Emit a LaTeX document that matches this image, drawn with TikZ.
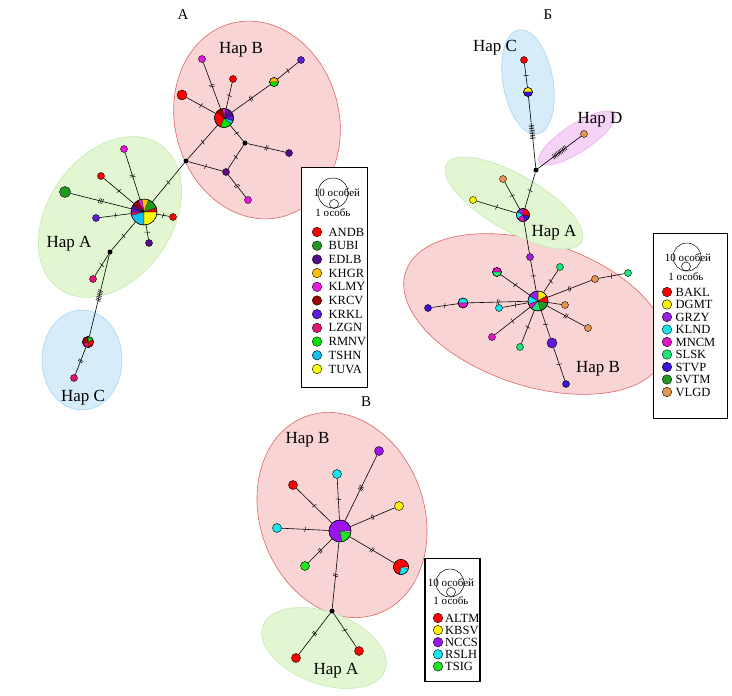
\documentclass[tikz,border=0pt]{standalone}
\usepackage{fontspec}
\setmainfont{Liberation Serif}
\usepackage{tikz}
\usetikzlibrary{decorations,decorations.markings}
\usepackage{xcolor}
% population colours
\definecolor{andb}{HTML}{FF0000}
\definecolor{bubi}{HTML}{1E9B1E}
\definecolor{edlb}{HTML}{5A0A8C}
\definecolor{khgr}{HTML}{FFC000}
\definecolor{klmy}{HTML}{E619E6}
\definecolor{krcv}{HTML}{A00000}
\definecolor{krkl}{HTML}{5A1EDC}
\definecolor{lzgn}{HTML}{E6146E}
\definecolor{rmnv}{HTML}{00E600}
\definecolor{tshn}{HTML}{14BEF0}
\definecolor{tuva}{HTML}{FFFF00}
\definecolor{bakl}{HTML}{FF0000}
\definecolor{dgmt}{HTML}{FFF000}
\definecolor{grzy}{HTML}{9B1EE6}
\definecolor{klnd}{HTML}{14E6F0}
\definecolor{mncm}{HTML}{E614C8}
\definecolor{slsk}{HTML}{1EE678}
\definecolor{stvp}{HTML}{3C14D2}
\definecolor{svtm}{HTML}{239B23}
\definecolor{vlgd}{HTML}{E69650}
\definecolor{altm}{HTML}{FF0000}
\definecolor{kbsv}{HTML}{FFF000}
\definecolor{nccs}{HTML}{9B14F0}
\definecolor{rslh}{HTML}{14E6F0}
\definecolor{tsig}{HTML}{1EE61E}
% haplogroup areas
\definecolor{fillA}{HTML}{E2F6D2}
\definecolor{drawA}{HTML}{C4EAB0}
\definecolor{fillB}{HTML}{F8D4D4}
\definecolor{drawB}{HTML}{E06464}
\definecolor{fillC}{HTML}{D6ECF9}
\definecolor{drawC}{HTML}{A8D4F2}
\definecolor{fillD}{HTML}{F6D2F6}
\definecolor{drawD}{HTML}{E8B0E8}
\tikzstyle{ellA}=[fill=fillA, draw=drawA, line width=.6pt]
\tikzstyle{ellB}=[fill=fillB, draw=drawB, line width=.6pt]
\tikzstyle{ellC}=[fill=fillC, draw=drawC, line width=.6pt]
\tikzstyle{ellD}=[fill=fillD, draw=drawD, line width=.6pt]
\tikzstyle{link}=[draw, line width=.6pt]
\tikzstyle{med}=[circle, fill=black, inner sep=0pt, minimum size=5pt]
\tikzstyle{hlab}=[inner sep=0pt, font=\fontsize{17}{17}\selectfont]
\tikzstyle{plab}=[inner sep=0pt, font=\fontsize{15}{15}\selectfont]
\tikzstyle{legbox}=[draw, fill=white, line width=1.2pt, inner sep=0pt]
\tikzstyle{legdot}=[circle, draw, line width=.4pt, inner sep=0pt, minimum size=9.5pt]
\tikzstyle{legtxt}=[anchor=west, inner sep=0pt, font=\fontsize{12.5}{13}\selectfont]
\tikzstyle{sztxt}=[inner sep=0pt, font=\fontsize{11}{11}\selectfont]
\tikzstyle{szcirc}=[circle, draw, line width=.5pt, inner sep=0pt]
\tikzset{hap/.style={circle, draw, line width=.4pt, inner sep=0pt, minimum size=#1}}
\tikzset{muts/.style={postaction={decorate, decoration={markings,
 mark=at position .5 with {\foreach \k in {1,...,#1} {\draw[line width=.5pt] ({(\k-(#1+1)/2)*1.7pt-.5pt},-2.6pt) -- ({(\k-(#1+1)/2)*1.7pt+.5pt},2.6pt);}}}}}}
\newcommand{\hpie}[3]{
 \foreach \a/\b/\c in {#3}
  \filldraw[fill=\c, draw=black, line width=.2pt] (#1.center) -- ++(-\a:#2) arc (-\a:-\b:#2) -- cycle;
 \draw[line width=.4pt] (#1.center) circle (#2);
}

\begin{document}
\begin{tikzpicture}[x=1pt, y=-1pt]
 \useasboundingbox (0,0) rectangle (732,696);
%
% panel A
 \draw[ellB, rotate around={15:(257,120)}] (257,120) ellipse [x radius=82, y radius=100];
 \draw[ellA, rotate around={-35:(110,217)}] (110,217) ellipse [x radius=62, y radius=88];
 \draw[ellC] (82,360) ellipse [x radius=40, y radius=50];
 \node[plab] (tA) at (183,15) {А};
 \node[hap=19pt] (aB) at (224,118) {};
 \node[hap=7pt, fill=klmy] (aB1) at (202,59) {};
 \node[hap=7pt, fill=andb] (aB2) at (233,79) {};
 \node[hap=10pt, fill=andb] (aB3) at (182,95) {};
 \node[hap=9pt] (aB4) at (274,82) {};
 \node[hap=7pt, fill=krkl] (aB5) at (301,60) {};
 \node[med] (aM1) at (245,143) {};
 \node[hap=7pt, fill=edlb] (aB6) at (289,153) {};
 \node[hap=7pt, fill=edlb] (aB7) at (226,172) {};
 \node[hap=7pt, fill=klmy] (aB8) at (248,200) {};
 \node[med] (aM2) at (186,161) {};
 \node[hap=26pt] (aA) at (144,212) {};
 \node[hap=7pt, fill=klmy] (aA1) at (124,149) {};
 \node[hap=7pt, fill=andb] (aA2) at (101,176) {};
 \node[hap=11pt, fill=bubi] (aA3) at (65,192) {};
 \node[hap=7pt, fill=krkl] (aA4) at (96,218) {};
 \node[hap=7pt, fill=andb] (aA5) at (173,217) {};
 \node[hap=7pt, fill=edlb] (aA6) at (149,243) {};
 \node[med] (aM3) at (110,252) {};
 \node[hap=7pt, fill=lzgn] (aA7) at (93,279) {};
 \node[hap=11pt] (aC) at (88,342) {};
 \node[hap=7pt, fill=lzgn] (aC1) at (74,378) {};
 \hpie{aB}{9.5}{15/80/edlb, 80/100/klmy, 100/140/krcv, 140/250/andb, 250/320/rmnv, 320/345/tshn, 345/375/krkl}
 \hpie{aB4}{4.5}{0/180/khgr, 180/360/rmnv}
 \hpie{aA}{13}{0/20/andb, 20/70/bubi, 70/100/khgr, 100/118/klmy, 118/145/krcv, 145/165/edlb, 165/180/krkl, 180/195/lzgn, 195/270/tshn, 270/360/tuva}
 \hpie{aC}{5.5}{20/90/rmnv, 90/200/krcv, 200/280/lzgn, 280/380/andb}
 \draw[link, muts=2] (aB) -- (aB1);
 \draw[link, muts=1] (aB) -- (aB2);
 \draw[link, muts=1] (aB) -- (aB3);
 \draw[link, muts=2] (aB) -- (aB4);
 \draw[link, muts=1] (aB4) -- (aB5);
 \draw[link, muts=1] (aB) -- (aM1);
 \draw[link, muts=2] (aM1) -- (aB6);
 \draw[link, muts=1] (aM1) -- (aB7);
 \draw[link, muts=1] (aM2) -- (aB7);
 \draw[link, muts=2] (aB7) -- (aB8);
 \draw[link, muts=1] (aB) -- (aM2);
 \draw[link, muts=1] (aM2) -- (aA);
 \draw[link, muts=2] (aA) -- (aA1);
 \draw[link, muts=1] (aA) -- (aA2);
 \draw[link, muts=3] (aA) -- (aA3);
 \draw[link, muts=1] (aA) -- (aA4);
 \draw[link, muts=1] (aA) -- (aA5);
 \draw[link, muts=1] (aA) -- (aA6);
 \draw[link, muts=1] (aA) -- (aM3);
 \draw[link, muts=1] (aM3) -- (aA7);
 \draw[link, muts=7] (aM3) -- (aC);
 \draw[link, muts=2] (aC) -- (aC1);
 \node[hlab] (aLB) at (241,50) {Hap B};
 \node[hlab] (aLA) at (69,244) {Hap A};
 \node[hlab] (aLC) at (83,398) {Hap C};
% legend A
 \node[legbox, minimum width=65.5pt, minimum height=220.5pt] (lgA) at (334.5,277.5) {};
 \node[szcirc, minimum size=30pt] (szA10) at (333,193) {};
 \node[szcirc, minimum size=9pt] (szA1) at (334,204) {};
 \node[sztxt] (tzA10) at (337,193) {10 особей};
 \node[sztxt] (tzA1) at (333,213) {1 особь};
 \foreach \c/\t [count=\i] in {andb/ANDB, bubi/BUBI, edlb/EDLB, khgr/KHGR, klmy/KLMY, krcv/KRCV, krkl/KRKL, lzgn/LZGN, rmnv/RMNV, tshn/TSHN, tuva/TUVA} {
  \node[legdot, fill=\c] (dA\i) at (317,{232+13.7*(\i-1)}) {};
  \node[legtxt] (nA\i) at (328.5,{232+13.7*(\i-1)}) {\t};
 }
%
% panel B (Cyrillic Be)
 \draw[ellB, rotate around={-18:(535,314)}] (535,314) ellipse [x radius=136, y radius=72];
 \draw[ellA, rotate around={-30:(514,203)}] (514,203) ellipse [x radius=78, y radius=28];
 \draw[ellC, rotate around={10:(528,82)}] (528,82) ellipse [x radius=25, y radius=53];
 \draw[ellD, rotate around={33:(577,138)}] (577,138) ellipse [x radius=45, y radius=14];
 \node[plab] (tB) at (548,15) {Б};
 \node[hap=7pt, fill=bakl] (bC1) at (524,60) {};
 \node[hap=9pt] (bC) at (528,92) {};
 \node[med] (bM) at (536,170) {};
 \node[hap=7pt, fill=vlgd] (bD) at (584,134) {};
 \node[hap=13pt] (bA) at (523,215) {};
 \node[hap=7pt, fill=dgmt] (bA1) at (473,200) {};
 \node[hap=7pt, fill=vlgd] (bA2) at (503,179) {};
 \node[hap=7pt, fill=grzy] (bB0) at (530,257) {};
 \node[hap=20pt] (bB) at (538,301) {};
 \node[hap=9pt] (bB1) at (497,272) {};
 \node[hap=7pt, fill=slsk] (bB2) at (560,267) {};
 \node[hap=7pt, fill=vlgd] (bB3) at (595,279) {};
 \node[hap=7pt, fill=slsk] (bB4) at (628,273) {};
 \node[hap=7pt, fill=vlgd] (bB5) at (565,305) {};
 \node[hap=7pt, fill=vlgd] (bB6) at (588,328) {};
 \node[hap=10pt, fill=stvp!60!grzy] (bB7) at (552,343) {};
 \node[hap=7pt, fill=stvp] (bB8) at (566,384) {};
 \node[hap=7pt, fill=slsk] (bB9) at (520,347) {};
 \node[hap=7pt, fill=mncm] (bB10) at (492,337) {};
 \node[hap=7pt, fill=klnd] (bB11) at (499,308) {};
 \node[hap=10pt] (bB12) at (463,303) {};
 \node[hap=7pt, fill=stvp] (bB13) at (428,308) {};
 \hpie{bC}{4.5}{0/180/dgmt, 180/360/stvp}
 \hpie{bA}{6.5}{350/440/bakl, 80/150/grzy, 150/215/klnd, 215/290/mncm, 290/350/stvp}
 \hpie{bB}{10}{30/90/dgmt, 90/150/grzy, 150/200/klnd, 200/230/mncm, 230/285/slsk, 285/350/svtm, 350/390/bakl}
 \hpie{bB1}{4.5}{0/180/mncm, 180/360/slsk}
 \hpie{bB12}{5}{0/180/klnd, 180/360/mncm}
 \draw[link, muts=1] (bC1) -- (bC);
 \draw[link, muts=9] (bC) -- (bM);
 \draw[link, muts=10] (bM) -- (bD);
 \draw[link, muts=1] (bM) -- (bA);
 \draw[link, muts=1] (bA) -- (bA1);
 \draw[link, muts=1] (bA) -- (bA2);
 \draw[link] (bA) -- (bB0);
 \draw[link, muts=1] (bB0) -- (bB);
 \draw[link, muts=1] (bB) -- (bB1);
 \draw[link, muts=1] (bB) -- (bB2);
 \draw[link, muts=2] (bB) -- (bB3);
 \draw[link, muts=1] (bB3) -- (bB4);
 \draw[link] (bB) -- (bB5);
 \draw[link, muts=2] (bB) -- (bB6);
 \draw[link, muts=1] (bB) -- (bB7);
 \draw[link, muts=1] (bB7) -- (bB8);
 \draw[link, muts=1] (bB) -- (bB9);
 \draw[link, muts=1] (bB) -- (bB10);
 \draw[link, muts=1] (bB) -- (bB11);
 \draw[link, muts=2] (bB) -- (bB12);
 \draw[link, muts=1] (bB12) -- (bB13);
 \node[hlab] (bLC) at (495,47.5) {Hap C};
 \node[hlab] (bLD) at (600,120) {Hap D};
 \node[hlab] (bLA) at (554,232.5) {Hap A};
 \node[hlab] (bLB) at (598,369) {Hap B};
% legend B
 \node[legbox, minimum width=74pt, minimum height=185pt] (lgB) at (690.3,325.8) {};
 \node[szcirc, minimum size=28pt] (szB10) at (687,257) {};
 \node[szcirc, minimum size=9pt] (szB1) at (686,266.5) {};
 \node[sztxt] (tzB10) at (688,257.5) {10 особей};
 \node[sztxt] (tzB1) at (686,277) {1 особь};
 \foreach \c/\t [count=\i] in {bakl/BAKL, dgmt/DGMT, grzy/GRZY, klnd/KLND, mncm/MNCM, slsk/SLSK, stvp/STVP, svtm/SVTM, vlgd/VLGD} {
  \node[legdot, fill=\c] (dB\i) at (667,{292+12.5*(\i-1)}) {};
  \node[legtxt] (nB\i) at (675.5,{292+12.5*(\i-1)}) {\t};
 }
%
% panel V (Cyrillic Ve)
 \draw[ellB, rotate around={20:(342,515)}] (342,515) ellipse [x radius=82, y radius=105];
 \draw[ellA, rotate around={-20:(324,648)}] (324,648) ellipse [x radius=65, y radius=36];
 \node[plab] (tV) at (366,402) {В};
 \node[hap=22pt] (vB) at (340,531) {};
 \node[hap=9pt, fill=nccs] (vB1) at (379,451) {};
 \node[hap=9pt, fill=rslh] (vB2) at (337,474) {};
 \node[hap=9pt, fill=altm] (vB3) at (293,485) {};
 \node[hap=9pt, fill=kbsv] (vB4) at (399,506) {};
 \node[hap=9pt, fill=rslh] (vB5) at (277,528) {};
 \node[hap=9pt, fill=tsig] (vB6) at (305,566) {};
 \node[hap=15pt] (vB7) at (401,567) {};
 \node[med] (vM) at (332,611) {};
 \node[hap=9pt, fill=altm] (vA1) at (296,658) {};
 \node[hap=9pt, fill=altm] (vA2) at (359,651) {};
 \hpie{vB}{11}{0/280/nccs, 280/350/tsig}
 \hpie{vB7}{7.5}{0/260/altm, 260/345/rslh}
 \draw[link, muts=3] (vB) -- (vB1);
 \draw[link, muts=1] (vB) -- (vB2);
 \draw[link, muts=1] (vB) -- (vB3);
 \draw[link, muts=2] (vB) -- (vB4);
 \draw[link, muts=1] (vB) -- (vB5);
 \draw[link, muts=2] (vB) -- (vB6);
 \draw[link, muts=2] (vB) -- (vB7);
 \draw[link, muts=2] (vB) -- (vM);
 \draw[link, muts=2] (vM) -- (vA1);
 \draw[link, muts=1] (vM) -- (vA2);
 \node[hlab] (vLB) at (307.5,439.5) {Hap B};
 \node[hlab] (vLA) at (336,671) {Hap A};
% legend V
 \node[legbox, minimum width=55pt, minimum height=123.5pt] (lgV) at (452.5,620) {};
 \node[szcirc, minimum size=28pt] (szV10) at (450,583) {};
 \node[szcirc, minimum size=9pt] (szV1) at (451,592) {};
 \node[sztxt] (tzV10) at (451,583) {10 особей};
 \node[sztxt] (tzV1) at (451,601) {1 особь};
 \foreach \c/\t [count=\i] in {altm/ALTM, kbsv/KBSV, nccs/NCCS, rslh/RSLH, tsig/TSIG} {
  \node[legdot, fill=\c] (dV\i) at (438,{618+12.1*(\i-1)}) {};
  \node[legtxt] (nV\i) at (445,{618+12.1*(\i-1)}) {\t};
 }
\end{tikzpicture}
\end{document}
